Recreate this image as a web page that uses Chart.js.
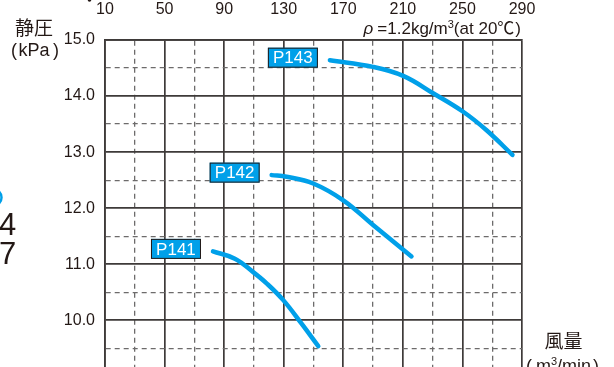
<!DOCTYPE html>
<html><head><meta charset="utf-8">
<script src="https://cdn.jsdelivr.net/npm/chart.js@4/dist/chart.umd.min.js"></script>
<style>
html,body{margin:0;padding:0;background:#fff;overflow:hidden;width:614px;height:367px}
#wrap{position:relative;width:614px;height:396px}
canvas{display:block}
</style>
</head><body><div id="wrap"><canvas id="c" width="614" height="396"></canvas></div>
<script>
// ---- data ----
const seriesNames = ['P141', 'P142', 'P143'];
const p141Flow = [82.5, 97.2, 109.5, 118.5, 129.7, 142.0, 153.2];
const p141Pres = [11.23, 11.10, 10.86, 10.66, 10.36, 9.94, 9.54];
const p142Flow = [121.9, 131.9, 149.8, 170.0, 190.0, 215.8];
const p142Pres = [12.59, 12.56, 12.44, 12.14, 11.70, 11.14];
const p143Flow = [161.0, 190.0, 210.2, 230.3, 250.5, 266.2, 283.6];
const p143Pres = [14.64, 14.52, 14.36, 14.05, 13.72, 13.39, 12.95];
const xTickLabels = [10, 50, 90, 130, 170, 210, 250, 290];
const yTickLabels = [10, 11, 12, 13, 14, 15];

const BLUE = '#00A0E9';
const INK = '#231815';
const GRID_SOLID = '#3e3a39';
const GRID_DASH = '#6d6b6b';
const LATIN = '"Liberation Sans", Arial, sans-serif';
const CJK = '"Noto Sans CJK JP", sans-serif';

function pts(xs, ys) { return xs.map((x, i) => ({ x: x, y: ys[i] })); }
const flows = [p141Flow, p142Flow, p143Flow];
const press = [p141Pres, p142Pres, p143Pres];

const datasets = seriesNames.map((n, i) => ({
  label: n,
  data: pts(flows[i], press[i]),
  borderColor: BLUE,
  borderWidth: 4.5,
  borderCapStyle: 'round',
  borderJoinStyle: 'round',
  pointRadius: 0,
  tension: 0.4,
  fill: false
}));

function drawRich(ctx, pieces, x, y, align) {
  let total = 0;
  pieces.forEach(p => { ctx.font = p.font; p.w = ctx.measureText(p.t).width + (p.gap || 0); total += p.w; });
  let cx = align === 'right' ? x - total : align === 'center' ? x - total / 2 : x;
  pieces.forEach(p => {
    ctx.font = p.font;
    ctx.fillText(p.t, cx, y + (p.dy || 0));
    cx += p.w;
  });
}

const decor = {
  id: 'decor',
  afterDatasetsDraw(chart) {
    const ctx = chart.ctx;
    const xs = chart.scales.x, ys = chart.scales.y;
    ctx.save();
    // series labels
    seriesNames.forEach((n, i) => {
      const px = xs.getPixelForValue(flows[i][0]);
      const py = ys.getPixelForValue(press[i][0]);
      const w = 50, h = 20;
      const right = px - 12;
      const top = py - 2.5 - h / 2;
      ctx.fillStyle = BLUE;
      ctx.fillRect(right - w, top, w, h);
      ctx.strokeStyle = INK;
      ctx.lineWidth = 1;
      ctx.strokeRect(right - w + 0.5, top + 0.5, w - 1, h - 1);
      ctx.fillStyle = '#fff';
      ctx.font = '17px ' + LATIN;
      ctx.textAlign = 'center';
      ctx.textBaseline = 'middle';
      ctx.fillText(n, right - w / 2, top + h / 2 + 1);
    });
    ctx.fillStyle = INK;
    ctx.textAlign = 'left';
    ctx.textBaseline = 'alphabetic';
    // density note
    drawRich(ctx, [
      { t: 'ρ', font: 'italic 17px ' + LATIN, gap: 4 },
      { t: '=1.2kg/m', font: '17px ' + LATIN },
      { t: '3', font: '11px ' + LATIN, dy: -6 },
      { t: '(at 20', font: '17px ' + LATIN },
      { t: '℃', font: '17px ' + CJK, gap: 1 },
      { t: ')', font: '17px ' + LATIN }
    ], chart.chartArea.right - 1, 33.5, 'right');
    // y title
    ctx.font = '19px ' + CJK;
    ctx.textAlign = 'center';
    ctx.textBaseline = 'middle';
    ctx.fillText('静圧', 34, 27.5);
    ctx.textAlign = 'left';
    ctx.textBaseline = 'alphabetic';
    ctx.font = '18px ' + LATIN;
    ctx.fillText('(', 11, 56);
    ctx.fillText('kPa', 18.5, 56);
    ctx.fillText(')', 53, 56);
    // x title
    ctx.font = '19px ' + CJK;
    ctx.textAlign = 'center';
    ctx.textBaseline = 'middle';
    ctx.fillText('風量', 563.5, 341);
    ctx.textAlign = 'left';
    ctx.textBaseline = 'alphabetic';
    ctx.font = '18px ' + LATIN;
    ctx.fillText('(', 526, 372);
    drawRich(ctx, [
      { t: 'm', font: '18px ' + LATIN },
      { t: '3', font: '11px ' + LATIN, dy: -7 },
      { t: '/min', font: '18px ' + LATIN }
    ], 536, 372, 'left');
    ctx.font = '18px ' + LATIN;
    ctx.fillText(')', 593, 372);
    // cropped fragments at left edge
    ctx.font = '31px ' + LATIN;
    ctx.fillText('4', -1, 235);
    ctx.fillText('7', -1, 264);
    ctx.strokeStyle = BLUE;
    ctx.lineWidth = 2.5;
    ctx.beginPath();
    ctx.arc(-7, 197.5, 8.5, -Math.PI / 2, Math.PI / 2);
    ctx.stroke();
    ctx.fillStyle = INK;
    ctx.beginPath();
    ctx.arc(89.5, 0, 1.8, 0, Math.PI * 2);
    ctx.fill();
    ctx.restore();
  }
};

const isMajorX = v => xTickLabels.includes(v);
const isMajorY = v => yTickLabels.includes(v) || v === 9;

new Chart(document.getElementById('c'), {
  type: 'line',
  data: { datasets },
  options: {
    responsive: false,
    animation: false,
    devicePixelRatio: 1,
    layout: { padding: { left: 0, right: 92, top: 0, bottom: 4 } },
    plugins: { legend: { display: false }, tooltip: { enabled: false } },
    scales: {
      x: {
        type: 'linear',
        position: 'top',
        min: 10, max: 290,
        afterFit(s) { s.height = 40; },
        ticks: {
          stepSize: 20, autoSkip: false, maxRotation: 0,
          padding: 20.5,
          color: INK,
          font: { family: LATIN, size: 16 },
          callback: v => isMajorX(v) ? String(v) : ''
        },
        grid: {
          drawTicks: false,
          color: c => isMajorX(c.tick.value) ? GRID_SOLID : GRID_DASH,
          lineWidth: c => isMajorX(c.tick.value) ? 1.7 : 1.3
        },
        border: {
          display: true, color: GRID_SOLID, width: 1.7,
          dash: c => (c.tick && !isMajorX(c.tick.value)) ? [5, 4] : []
        }
      },
      y: {
        type: 'linear',
        min: 9, max: 15,
        afterFit(s) { s.width = 105; },
        ticks: {
          stepSize: 0.5, autoSkip: false,
          padding: 10,
          color: INK,
          font: { family: LATIN, size: 16 },
          callback: v => yTickLabels.includes(v) ? v.toFixed(1) : ''
        },
        grid: {
          drawTicks: false,
          color: c => isMajorY(c.tick.value) ? GRID_SOLID : GRID_DASH,
          lineWidth: c => isMajorY(c.tick.value) ? 1.7 : 1.3
        },
        border: {
          display: true, color: GRID_SOLID, width: 1.7,
          dash: c => (c.tick && !isMajorY(c.tick.value)) ? [5, 4] : []
        }
      }
    }
  },
  plugins: [decor]
});
</script>
</body></html>
